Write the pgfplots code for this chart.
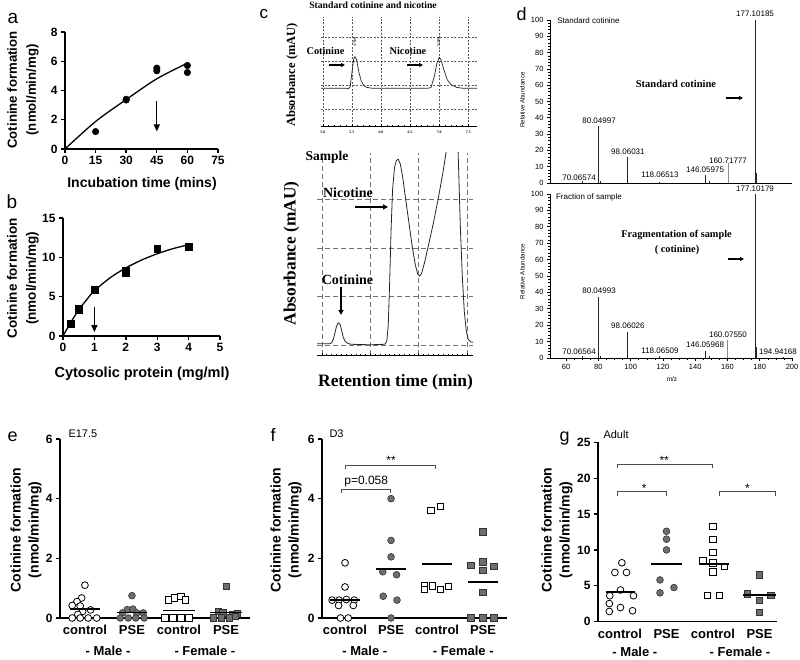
\documentclass[border=0pt]{standalone}
\usepackage{pgfplots}
\pgfplotsset{compat=1.18}
\usetikzlibrary{arrows.meta}
\usepackage{fontspec}
\setmainfont{Liberation Sans}
\newfontfamily\tnr{Liberation Serif}
\newcommand\fs[1]{\fontsize{#1}{#1}\selectfont}
\newcommand\fsl[2]{\fontsize{#1}{#2}\selectfont}
\definecolor{mygray}{RGB}{110,110,110}
\pgfplotsset{
 gp/.style={scale only axis, axis lines=left, axis line style={-, line width=1.6pt},
   tick align=outside, major tick length=4pt, tick style={line width=1.4pt, black},
   every tick label/.append style={font=\bfseries\fs{12}},
   /pgf/number format/assume math mode=true, clip mode=individual},
 gp3/.style={gp, xtick={1,2,3,4}, xticklabels={control,PSE,control,PSE},
   xtick style={draw=none},
   xticklabel style={font=\bfseries\fs{13}}},
 opencirc/.style={only marks, mark=*, mark size=3.4pt, mark options={fill=white, draw=black, line width=0.8pt}},
 graycirc/.style={only marks, mark=*, mark size=3.4pt, mark options={fill=mygray, draw=black!80, line width=0.6pt}},
 opensq/.style={only marks, mark=square*, mark size=3.2pt, mark options={fill=white, draw=black, line width=0.8pt}},
 graysq/.style={only marks, mark=square*, mark size=3.2pt, mark options={fill=mygray, draw=black!80, line width=0.6pt}},
 meanline/.style={black, line width=1.6pt, no marks},
 ms/.style={scale only axis, axis lines=left, axis line style={-, line width=0.8pt},
   tick align=outside, major tick length=3pt, minor tick length=1.6pt,
   tick style={line width=0.6pt, black}, xmin=50, xmax=200, ymin=0, ymax=100,
   ytick={0,10,...,100}, minor y tick num=4,
   every tick label/.append style={font=\fs{7.5}},
   /pgf/number format/assume math mode=true, clip mode=individual},
 peak/.style={ycomb, black!85, line width=0.7pt, no marks},
}
\begin{document}
\begin{tikzpicture}
\useasboundingbox (0,0) rectangle (800pt,660pt);
% panel letters
\node[anchor=base west, font=\fs{19}] at (4pt,636pt) {a};
\node[anchor=base west, font=\fs{19}] at (3pt,451pt) {b};
\node[anchor=base west, font=\fs{17}] at (256pt,641pt) {c};
\node[anchor=base west, font=\fs{18}] at (513pt,639pt) {d};
\node[anchor=base west, font=\fs{18}] at (4pt,218pt) {e};
\node[anchor=base west, font=\fs{18}] at (267pt,218pt) {f};
\node[anchor=base west, font=\fs{18}] at (556pt,218pt) {g};

% ---------------- a
\begin{axis}[gp, at={(65pt,511pt)}, anchor=south west, width=153pt, height=117pt,
 xmin=0, xmax=75, ymin=0, ymax=8, xtick={0,15,30,45,60,75}, ytick={0,2,4,6,8}]
\addplot[black, line width=1.3pt, smooth] coordinates {(0,0) (15,1.88) (30,3.38) (45,4.8) (60,5.87)};
\addplot[only marks, mark=*, mark size=3.3pt, black] coordinates {(15,1.19) (30,3.4) (30,3.35) (45,5.53) (45,5.35) (60,5.71) (60,5.23)};
\draw[-{Triangle[width=6pt,length=7pt]}, line width=1.3pt] (axis cs:45,3.25) -- (axis cs:45,1.2);
\end{axis}
\node[rotate=90, align=center, font=\bfseries\fsl{13.2}{19}] at (23pt,570pt) {Cotinine formation\\(nmol/min/mg)};
\node[font=\bfseries\fs{14}] at (142pt,476pt) {Incubation time (mins)};

% ---------------- b
\begin{axis}[gp, at={(63pt,324pt)}, anchor=south west, width=157pt, height=118pt,
 xmin=0, xmax=5, ymin=0, ymax=15, xtick={0,1,2,3,4,5}, ytick={0,5,10,15}]
\addplot[black, line width=1.3pt, smooth] coordinates {(0,0) (0.25,1.75) (0.5,3.3) (0.75,4.6) (1,5.75) (1.5,7.4) (2,8.65) (2.5,9.65) (3,10.45) (3.5,11.1) (4,11.6)};
\addplot[only marks, mark=square*, mark size=3.3pt, black] coordinates {(0.25,1.58) (0.5,3.5) (0.5,3.3) (1,5.92) (2,8.3) (2,8.05) (3,11.08) (4,11.38)};
\draw[-{Triangle[width=6pt,length=7pt]}, line width=1.3pt] (axis cs:1,3.7) -- (axis cs:1,0.5);
\end{axis}
\node[rotate=90, align=center, font=\bfseries\fsl{13.5}{19}] at (23pt,381.5pt) {Cotinine formation\\(nmol/min/mg)};
\node[font=\bfseries\fs{14.5}] at (142pt,286.5pt) {Cytosolic protein (mg/ml)};

% ---------------- c upper
\node[font=\tnr\bfseries\fs{9.7}] at (373pt,655pt) {Standard cotinine and nicotine};
\begin{axis}[scale only axis, at={(321pt,534pt)}, anchor=south west, width=156pt, height=109pt,
 xmin=4.97, xmax=7.65, ymin=0, ymax=4.54, axis lines=left,
 axis line style={-, line width=0.8pt}, y axis line style={draw=none},
 xtick={5,5.5,...,7.5}, minor x tick num=4, tick align=center, major tick length=3pt, minor tick length=2pt,
 tick style={black, line width=0.5pt},
 ytick={0.7,1.7,2.7,3.7}, yticklabels={}, ytick style={draw=none},
 xmajorgrids, ymajorgrids, grid style={dash pattern=on 2pt off 1.5pt, black!65, line width=0.5pt},
 xticklabel style={font=\tnr\bfseries\fs{3.8}},
 /pgf/number format/.cd, fixed, fixed zerofill, precision=1, assume math mode=true,
 /pgfplots/.cd, clip mode=individual]
\addplot[black!85, line width=0.7pt, no marks] coordinates {(4.97,1.57) (5.40,1.57) (5.44,1.55) (5.47,1.62) (5.50,2.2) (5.53,2.75) (5.55,2.89) (5.58,2.78) (5.62,2.25) (5.66,1.88) (5.70,1.7) (5.75,1.61) (5.85,1.57) (6.80,1.57) (6.86,1.6) (6.92,2.1) (6.96,2.6) (7.0,2.86) (7.03,2.77) (7.08,2.35) (7.14,1.92) (7.2,1.73) (7.3,1.61) (7.4,1.57) (7.65,1.57)};
\end{axis}
\node[rotate=90, font=\tnr\bfseries\fs{12.5}] at (292pt,585pt) {Absorbance (mAU)};
\node[font=\tnr\bfseries\fs{10.3}] at (325.5pt,609.5pt) {Cotinine};
\node[font=\tnr\bfseries\fs{10.3}] at (408pt,609pt) {Nicotine};
\draw[-{Triangle[width=4pt,length=4pt]}, line width=1.2pt] (329pt,595pt) -- (345pt,595pt);
\draw[-{Triangle[width=4pt,length=4pt]}, line width=1.2pt] (407pt,595pt) -- (423pt,595pt);
\node[rotate=90, font=\fs{3.5}] at (355pt,618pt) {47566};
\node[rotate=90, font=\fs{3.5}] at (438.5pt,618pt) {51948};

% ---------------- c lower
\begin{axis}[scale only axis, at={(317pt,305pt)}, anchor=south west, width=156pt, height=202pt,
 xmin=-0.1, xmax=3.12, ymin=0, ymax=4.15, axis lines=left,
 axis line style={-, line width=0.8pt}, y axis line style={draw=none},
 xtick={0,1,2,3}, minor x tick num=9, xticklabels={}, tick align=center, major tick length=3pt, minor tick length=2pt,
 tick style={black, line width=0.5pt},
 ytick={0.2,1.21,2.2,3.2}, yticklabels={}, ytick style={draw=none},
 xmajorgrids, ymajorgrids, grid style={dash pattern=on 5pt off 3pt, black!55, line width=0.5pt},
 clip mode=individual]
\addplot[black!85, line width=0.8pt, no marks] coordinates {(-0.1,0.23) (0.15,0.23) (0.2,0.25) (0.24,0.33) (0.27,0.45) (0.3,0.58) (0.33,0.65) (0.35,0.66) (0.38,0.62) (0.41,0.5) (0.44,0.37) (0.48,0.28) (0.53,0.24) (0.6,0.22) (1.0,0.21) (1.3,0.22) (1.34,0.28) (1.37,0.6) (1.40,1.5) (1.43,2.6) (1.46,3.4) (1.5,3.85) (1.54,4.0) (1.58,4.02) (1.62,3.92) (1.67,3.65) (1.73,3.2) (1.8,2.7) (1.87,2.2) (1.93,1.85) (1.98,1.66) (2.02,1.62) (2.06,1.68) (2.12,1.9) (2.2,2.25) (2.3,2.7) (2.4,3.2) (2.5,3.75) (2.57,4.2) (2.63,4.8) (2.7,5.3) (2.77,5.3) (2.8,4.6) (2.83,3.6) (2.86,2.6) (2.9,1.6) (2.94,0.9) (2.98,0.5) (3.02,0.33) (3.07,0.27) (3.12,0.26)};
\end{axis}
\node[font=\tnr\bfseries\fs{13.5}] at (327pt,503pt) {Sample};
\node[font=\tnr\bfseries\fs{14}] at (348pt,467.5pt) {Nicotine};
\draw[-{Triangle[width=5pt,length=5pt]}, line width=1.2pt] (355pt,453pt) -- (388pt,453pt);
\node[font=\tnr\bfseries\fs{14}] at (347.5pt,380.5pt) {Cotinine};
\draw[-{Triangle[width=5pt,length=5pt]}, line width=1.2pt] (341pt,373pt) -- (341pt,345pt);
\node[rotate=90, font=\tnr\bfseries\fs{17.3}] at (291.5pt,406.5pt) {Absorbance (mAU)};
\node[font=\tnr\bfseries\fs{17.4}] at (395.5pt,277.5pt) {Retention time (min)};

% ---------------- d top
\begin{axis}[ms, at={(550pt,477pt)}, anchor=south west, width=242pt, height=163pt, xtick=\empty]
\addplot[peak] coordinates {(70.07,1) (80.05,35) (81,1) (98.06,16) (118.07,0.8) (146.06,5) (148.5,1) (177.10,100) (178.1,6)};
\addplot[ycomb, black!45, line width=0.7pt, no marks] coordinates {(160.72,12)};
\node[font=\fs{8}] at (axis cs:177.07,103.7) {177.10185};
\node[font=\fs{8}] at (axis cs:80.4,38) {80.04997};
\node[font=\fs{8}] at (axis cs:98.3,19) {98.06031};
\node[font=\fs{8}] at (axis cs:68,3.1) {70.06574};
\node[font=\fs{8}] at (axis cs:118.2,4.9) {118.06513};
\node[font=\fs{8}] at (axis cs:146.1,8) {146.05975};
\node[font=\fs{8}] at (axis cs:160.3,13.5) {160.71777};
\end{axis}
\node[rotate=90, font=\fs{6.2}] at (522.5pt,560pt) {Relative Abundance};
\node[font=\fs{8}] at (588.5pt,639pt) {Standard cotinine};
\node[font=\tnr\bfseries\fs{10.5}] at (676pt,576pt) {Standard cotinine};
\draw[-{Triangle[width=4pt,length=4pt]}, line width=1.2pt] (726pt,562pt) -- (743pt,562pt);

% ---------------- d bottom
\begin{axis}[ms, at={(550pt,302pt)}, anchor=south west, width=242pt, height=164pt,
 xtick={60,80,...,200}, minor x tick num=3]
\addplot[peak] coordinates {(70.07,1) (80.05,37) (81,1) (98.06,16) (118.07,1) (146.06,4.5) (148.5,1) (177.10,100) (178.1,7) (194.94,0.5)};
\addplot[ycomb, black!45, line width=0.7pt, no marks] coordinates {(160.08,11)};
\node[font=\fs{8}] at (axis cs:177.07,103) {177.10179};
\node[font=\fs{8}] at (axis cs:80.4,40.9) {80.04993};
\node[font=\fs{8}] at (axis cs:98.3,19.5) {98.06026};
\node[font=\fs{8}] at (axis cs:68,3.7) {70.06564};
\node[font=\fs{8}] at (axis cs:118.2,4.3) {118.06509};
\node[font=\fs{8}] at (axis cs:146.1,7.9) {146.05968};
\node[font=\fs{8}] at (axis cs:160.3,14) {160.07550};
\node[font=\fs{8}] at (axis cs:191.3,3.7) {194.94168};
\end{axis}
\node[rotate=90, font=\fs{6.2}] at (522.5pt,388.5pt) {Relative Abundance};
\node[font=\fs{8}] at (589pt,463pt) {Fraction of sample};
\node[font=\fs{6.5}] at (672pt,281pt) {m/z};
\node[font=\tnr\bfseries\fs{10.3}] at (676.5pt,425pt) {Fragmentation of sample};
\node[font=\tnr\bfseries\fs{10.3}] at (677pt,410pt) {( cotinine)};
\draw[-{Triangle[width=4pt,length=4pt]}, line width=1.2pt] (728pt,401pt) -- (744pt,401pt);

% ---------------- e
\begin{axis}[gp3, at={(60pt,42pt)}, anchor=south west, width=190pt, height=179pt,
 xmin=0.47, xmax=4.51, ymin=0, ymax=6, ytick={0,2,4,6}]
\addplot[opencirc] coordinates {(1.0,1.1) (0.93,0.67) (0.83,0.55) (0.73,0.42) (0.9,0.4) (0.95,0.22) (1.12,0.27) (0.85,0.12) (0.73,0) (0.9,0) (1.07,0) (1.25,0)};
\addplot[meanline] coordinates {(0.68,0.3) (1.32,0.3)};
\addplot[graycirc] coordinates {(2.0,0.75) (1.9,0.28) (2.02,0.3) (1.8,0.17) (2.1,0.17) (2.24,0.17) (1.75,0) (1.92,0) (2.08,0) (2.26,0)};
\addplot[meanline] coordinates {(1.68,0.18) (2.32,0.18)};
\addplot[opensq] coordinates {(2.9,0.67) (3.04,0.72) (3.14,0.6) (2.78,0.6) (2.7,0) (2.87,0) (3.04,0) (3.21,0)};
\addplot[meanline] coordinates {(2.67,0.25) (3.33,0.25)};
\addplot[graysq] coordinates {(4.0,1.06) (3.83,0.22) (3.93,0.17) (4.14,0.11) (4.24,0.14) (3.73,0) (3.9,0) (4.07,0) (4.2,0.05)};
\addplot[meanline] coordinates {(3.67,0.18) (4.33,0.18)};
\node[font=\bfseries\fs{13}] at (axis cs:1.49,0) [yshift=-33pt] {- Male -};
\node[font=\bfseries\fs{13}] at (axis cs:3.55,0) [yshift=-33pt] {- Female -};
\end{axis}
\node[anchor=west, font=\fs{11}] at (65pt,226pt) {E17.5};
\node[rotate=90, align=center, font=\bfseries\fsl{14}{18}] at (26pt,130pt) {Cotinine formation\\(nmol/min/mg)};

% ---------------- f
\begin{axis}[gp3, at={(322pt,42pt)}, anchor=south west, width=185pt, height=179pt,
 xmin=0.5, xmax=4.52, ymin=0, ymax=6, ytick={0,2,4,6}]
\addplot[opencirc] coordinates {(1.0,1.85) (1.0,1.04) (0.72,0.6) (0.87,0.6) (1.03,0.62) (1.2,0.6) (0.86,0.42) (1.18,0.42) (0.9,0) (1.07,0)};
\addplot[meanline] coordinates {(0.68,0.6) (1.32,0.6)};
\addplot[graycirc] coordinates {(2.0,4.0) (2.0,2.6) (2.0,2.05) (1.82,1.55) (2.12,1.45) (1.83,0.73) (2.13,0.6) (2.0,0)};
\addplot[meanline] coordinates {(1.68,1.65) (2.33,1.65)};
\addplot[opensq] coordinates {(2.87,3.6) (3.07,3.75) (2.73,1.1) (2.73,0.95) (2.9,1.08) (3.07,0.95) (3.25,1.06)};
\addplot[meanline] coordinates {(2.68,1.8) (3.32,1.8)};
\addplot[graysq] coordinates {(3.99,2.89) (3.73,1.77) (3.99,1.88) (3.99,1.59) (4.23,1.74) (3.99,0.86) (3.73,0) (3.99,0) (4.23,0)};
\addplot[meanline] coordinates {(3.68,1.2) (4.32,1.2)};
\draw[black!70, line width=0.6pt] (axis cs:0.93,4.2) -- (axis cs:0.93,4.3) -- (axis cs:1.98,4.3) -- (axis cs:1.98,4.2);
\node[font=\fs{12}] at (axis cs:1.46,4.56) {p=0.058};
\draw[black!70, line width=0.6pt] (axis cs:1.0,5.0) -- (axis cs:1.0,5.13) -- (axis cs:2.96,5.13) -- (axis cs:2.96,5.0);
\node[font=\fs{12}] at (axis cs:2.0,5.3) {**};
\node[font=\bfseries\fs{13}] at (axis cs:1.43,0) [yshift=-33pt] {- Male -};
\node[font=\bfseries\fs{13}] at (axis cs:3.57,0) [yshift=-33pt] {- Female -};
\end{axis}
\node[anchor=west, font=\fs{11}] at (326pt,226pt) {D3};
\node[rotate=90, align=center, font=\bfseries\fsl{14}{18}] at (286pt,130pt) {Cotinine formation\\(nmol/min/mg)};

% ---------------- g
\begin{axis}[gp3, at={(598pt,38.5pt)}, anchor=south west, width=179pt, height=179pt,
 xmin=0.527, xmax=4.376, ymin=0, ymax=25, ytick={0,5,10,15,20,25}]
\addplot[opencirc] coordinates {(1.04,8.2) (0.89,6.85) (1.14,6.85) (1.01,4.4) (0.78,3.6) (1.29,3.6) (0.77,2.5) (1.01,1.95) (0.77,1.4) (1.27,1.5)};
\addplot[meanline] coordinates {(0.7,4.1) (1.33,4.1)};
\addplot[graycirc] coordinates {(2.0,12.6) (2.0,11.5) (2.0,10.0) (1.86,5.8) (1.86,4.0) (2.16,4.74)};
\addplot[meanline] coordinates {(1.66,8.0) (2.33,8.0)};
\addplot[opensq] coordinates {(3.0,13.25) (3.0,11.5) (3.0,9.67) (2.78,8.5) (3.0,8.2) (3.24,7.67) (3.0,6.9) (2.88,3.63) (3.14,3.63)};
\addplot[meanline] coordinates {(2.7,8.0) (3.35,8.0)};
\addplot[graysq] coordinates {(4.0,6.5) (3.74,3.86) (4.24,3.63) (4.0,2.98) (4.0,1.3)};
\addplot[meanline] coordinates {(3.65,3.7) (4.35,3.7)};
\draw[black!70, line width=0.6pt] (axis cs:0.94,21.4) -- (axis cs:0.94,22.0) -- (axis cs:2.99,22.0) -- (axis cs:2.99,21.4);
\node[font=\fs{12}] at (axis cs:1.95,22.5) {**};
\draw[black!70, line width=0.6pt] (axis cs:0.94,17.57) -- (axis cs:0.94,18.13) -- (axis cs:2.0,18.13) -- (axis cs:2.0,17.57);
\node[font=\fs{12}] at (axis cs:1.52,18.6) {*};
\draw[black!70, line width=0.6pt] (axis cs:3.13,17.57) -- (axis cs:3.13,18.13) -- (axis cs:4.33,18.13) -- (axis cs:4.33,17.57);
\node[font=\fs{12}] at (axis cs:3.74,18.6) {*};
\node[font=\bfseries\fs{13}] at (axis cs:1.32,0) [yshift=-30.5pt] {- Male -};
\node[font=\bfseries\fs{13}] at (axis cs:3.58,0) [yshift=-30.5pt] {- Female -};
\end{axis}
\node[anchor=west, font=\fs{11}] at (600pt,225pt) {Adult};
\node[rotate=90, align=center, font=\bfseries\fsl{14}{18}] at (557pt,130pt) {Cotinine formation\\(nmol/min/mg)};
\end{tikzpicture}
\end{document}
